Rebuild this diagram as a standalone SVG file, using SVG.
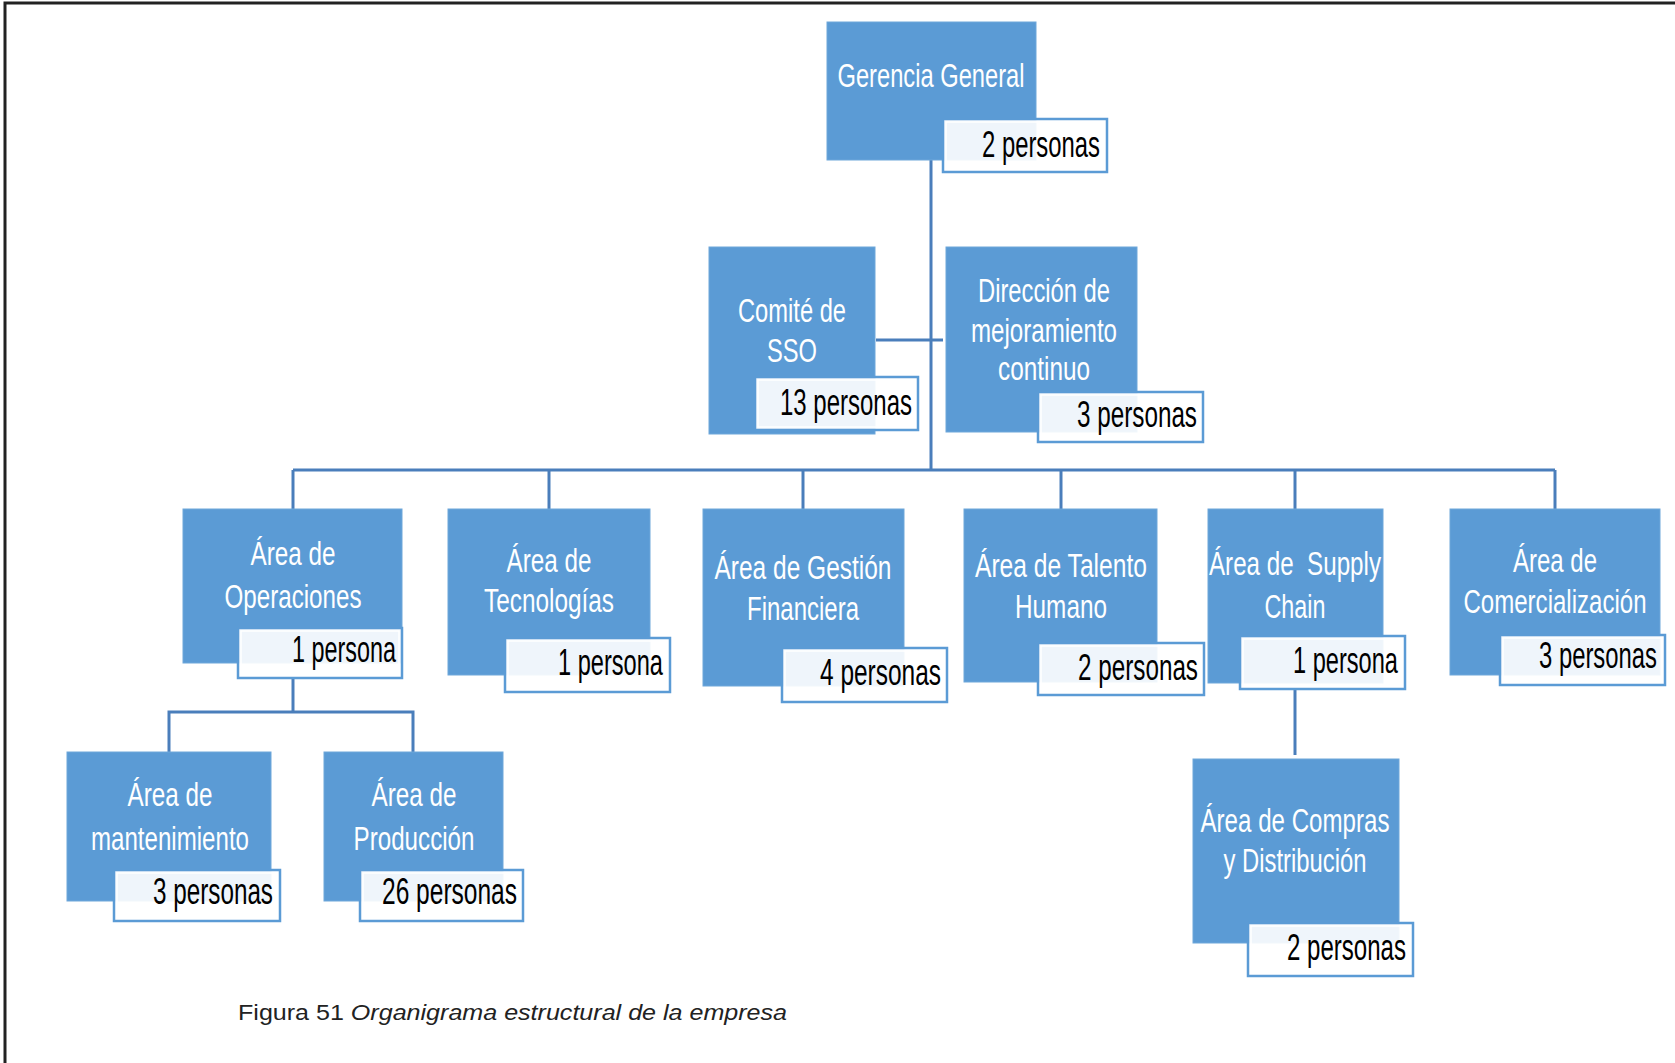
<svg xmlns="http://www.w3.org/2000/svg" width="1675" height="1063" viewBox="0 0 1675 1063">
  <style>
    .box { fill: #5B9BD5; stroke: #6FA7DA; stroke-width: 1; }
    .lbl { fill: #FFFFFF; fill-opacity: 0.9; stroke: #5B9BD5; stroke-width: 2.5; }
    .lbl-in { fill: none; stroke: #FFFFFF; stroke-width: 1.5; }
    .title { font-family: "Liberation Sans", Arial, sans-serif; font-size: 33px; fill: #FFFFFF; text-anchor: middle; }
    .count { font-family: "Liberation Sans", Arial, sans-serif; font-size: 36px; fill: #000000; text-anchor: end; }
    .conn { stroke: #4A7EBB; stroke-width: 3; fill: none; }
    .caption { font-family: "Liberation Sans", Arial, sans-serif; font-size: 22px; fill: #222222; }
  </style>

  <rect x="0" y="0" width="1675" height="1063" fill="#FFFFFF"/>
  <!-- page frame -->
  <path d="M5,1063 V3 H1675" fill="none" stroke="#222222" stroke-width="3"/>

  <g id="connectors">
    <line class="conn" x1="931" y1="160" x2="931" y2="471"/>
    <line class="conn" x1="876" y1="340" x2="943" y2="340"/>
    <line class="conn" x1="293" y1="470" x2="1555" y2="470"/>
    <line class="conn" x1="293" y1="470" x2="293" y2="509"/>
    <line class="conn" x1="549" y1="470" x2="549" y2="509"/>
    <line class="conn" x1="803" y1="470" x2="803" y2="509"/>
    <line class="conn" x1="1061" y1="470" x2="1061" y2="509"/>
    <line class="conn" x1="1295" y1="470" x2="1295" y2="509"/>
    <line class="conn" x1="1555" y1="470" x2="1555" y2="509"/>
    <line class="conn" x1="293" y1="678" x2="293" y2="712"/>
    <path class="conn" d="M169,752 V712 H413 V752"/>
    <line class="conn" x1="1295" y1="689" x2="1295" y2="755"/>
  </g>

  <g id="gerencia-general">
    <rect class="box" x="827" y="22" width="209" height="138"/>
    <text class="title" x="931" y="87" textLength="187" lengthAdjust="spacingAndGlyphs">Gerencia General</text>
    <rect class="lbl" x="943" y="119" width="164" height="53"/>
    <rect class="lbl-in" x="946" y="122" width="158" height="47"/>
    <text class="count" x="1100" y="157" textLength="118" lengthAdjust="spacingAndGlyphs">2 personas</text>
  </g>

  <g id="comite-sso">
    <rect class="box" x="709" y="247" width="166" height="187"/>
    <text class="title" x="792" y="322" textLength="108" lengthAdjust="spacingAndGlyphs">Comité de</text>
    <text class="title" x="792" y="362" textLength="50" lengthAdjust="spacingAndGlyphs">SSO</text>
    <rect class="lbl" x="755" y="377" width="163" height="53"/>
    <rect class="lbl-in" x="758" y="380" width="157" height="47"/>
    <text class="count" x="912" y="415" textLength="132" lengthAdjust="spacingAndGlyphs">13 personas</text>
  </g>

  <g id="direccion-mejoramiento">
    <rect class="box" x="946" y="247" width="191" height="185"/>
    <text class="title" x="1044" y="302" textLength="132" lengthAdjust="spacingAndGlyphs">Dirección de</text>
    <text class="title" x="1044" y="342" textLength="146" lengthAdjust="spacingAndGlyphs">mejoramiento</text>
    <text class="title" x="1044" y="380" textLength="92" lengthAdjust="spacingAndGlyphs">continuo</text>
    <rect class="lbl" x="1038" y="392" width="165" height="50"/>
    <rect class="lbl-in" x="1041" y="395" width="159" height="44"/>
    <text class="count" x="1197" y="427" textLength="120" lengthAdjust="spacingAndGlyphs">3 personas</text>
  </g>

  <g id="area-operaciones">
    <rect class="box" x="183" y="509" width="219" height="154"/>
    <text class="title" x="293" y="565" textLength="85" lengthAdjust="spacingAndGlyphs">Área de</text>
    <text class="title" x="293" y="608" textLength="137" lengthAdjust="spacingAndGlyphs">Operaciones</text>
    <rect class="lbl" x="238" y="628" width="164" height="50"/>
    <rect class="lbl-in" x="241" y="631" width="158" height="44"/>
    <text class="count" x="396" y="662" textLength="104" lengthAdjust="spacingAndGlyphs">1 persona</text>
  </g>

  <g id="area-tecnologias">
    <rect class="box" x="448" y="509" width="202" height="166"/>
    <text class="title" x="549" y="572" textLength="85" lengthAdjust="spacingAndGlyphs">Área de</text>
    <text class="title" x="549" y="612" textLength="130" lengthAdjust="spacingAndGlyphs">Tecnologías</text>
    <rect class="lbl" x="505" y="638" width="165" height="54"/>
    <rect class="lbl-in" x="508" y="641" width="159" height="48"/>
    <text class="count" x="663" y="675" textLength="105" lengthAdjust="spacingAndGlyphs">1 persona</text>
  </g>

  <g id="area-gestion-financiera">
    <rect class="box" x="703" y="509" width="201" height="177"/>
    <text class="title" x="803" y="579" textLength="177" lengthAdjust="spacingAndGlyphs">Área de Gestión</text>
    <text class="title" x="803" y="620" textLength="112" lengthAdjust="spacingAndGlyphs">Financiera</text>
    <rect class="lbl" x="782" y="648" width="165" height="54"/>
    <rect class="lbl-in" x="785" y="651" width="159" height="48"/>
    <text class="count" x="941" y="685" textLength="121" lengthAdjust="spacingAndGlyphs">4 personas</text>
  </g>

  <g id="area-talento-humano">
    <rect class="box" x="964" y="509" width="193" height="173"/>
    <text class="title" x="1061" y="577" textLength="172" lengthAdjust="spacingAndGlyphs">Área de Talento</text>
    <text class="title" x="1061" y="618" textLength="92" lengthAdjust="spacingAndGlyphs">Humano</text>
    <rect class="lbl" x="1038" y="643" width="166" height="52"/>
    <rect class="lbl-in" x="1041" y="646" width="160" height="46"/>
    <text class="count" x="1198" y="680" textLength="120" lengthAdjust="spacingAndGlyphs">2 personas</text>
  </g>

  <g id="area-supply-chain">
    <rect class="box" x="1208" y="509" width="175" height="174"/>
    <text class="title" x="1295" y="575" textLength="172" lengthAdjust="spacingAndGlyphs" xml:space="preserve">Área de  Supply</text>
    <text class="title" x="1295" y="618" textLength="61" lengthAdjust="spacingAndGlyphs">Chain</text>
    <rect class="lbl" x="1240" y="636" width="165" height="53"/>
    <rect class="lbl-in" x="1243" y="639" width="159" height="47"/>
    <text class="count" x="1398" y="673" textLength="105" lengthAdjust="spacingAndGlyphs">1 persona</text>
  </g>

  <g id="area-comercializacion">
    <rect class="box" x="1450" y="509" width="210" height="166"/>
    <text class="title" x="1555" y="572" textLength="84" lengthAdjust="spacingAndGlyphs">Área de</text>
    <text class="title" x="1555" y="613" textLength="183" lengthAdjust="spacingAndGlyphs">Comercialización</text>
    <rect class="lbl" x="1500" y="635" width="165" height="50"/>
    <rect class="lbl-in" x="1503" y="638" width="159" height="44"/>
    <text class="count" x="1657" y="668" textLength="118" lengthAdjust="spacingAndGlyphs">3 personas</text>
  </g>

  <g id="area-mantenimiento">
    <rect class="box" x="67" y="752" width="204" height="149"/>
    <text class="title" x="170" y="806" textLength="85" lengthAdjust="spacingAndGlyphs">Área de</text>
    <text class="title" x="170" y="850" textLength="158" lengthAdjust="spacingAndGlyphs">mantenimiento</text>
    <rect class="lbl" x="114" y="870" width="166" height="51"/>
    <rect class="lbl-in" x="117" y="873" width="160" height="45"/>
    <text class="count" x="273" y="904" textLength="120" lengthAdjust="spacingAndGlyphs">3 personas</text>
  </g>

  <g id="area-produccion">
    <rect class="box" x="324" y="752" width="179" height="149"/>
    <text class="title" x="414" y="806" textLength="85" lengthAdjust="spacingAndGlyphs">Área de</text>
    <text class="title" x="414" y="850" textLength="121" lengthAdjust="spacingAndGlyphs">Producción</text>
    <rect class="lbl" x="360" y="870" width="163" height="51"/>
    <rect class="lbl-in" x="363" y="873" width="157" height="45"/>
    <text class="count" x="517" y="904" textLength="135" lengthAdjust="spacingAndGlyphs">26 personas</text>
  </g>

  <g id="area-compras-distribucion">
    <rect class="box" x="1193" y="759" width="206" height="184"/>
    <text class="title" x="1295" y="832" textLength="189" lengthAdjust="spacingAndGlyphs">Área de Compras</text>
    <text class="title" x="1295" y="872" textLength="143" lengthAdjust="spacingAndGlyphs">y Distribución</text>
    <rect class="lbl" x="1248" y="923" width="165" height="53"/>
    <rect class="lbl-in" x="1251" y="926" width="159" height="47"/>
    <text class="count" x="1406" y="960" textLength="119" lengthAdjust="spacingAndGlyphs">2 personas</text>
  </g>

  <text class="caption" x="238" y="1020" textLength="549" lengthAdjust="spacingAndGlyphs">Figura 51 <tspan font-style="italic">Organigrama estructural de la empresa</tspan></text>
</svg>
